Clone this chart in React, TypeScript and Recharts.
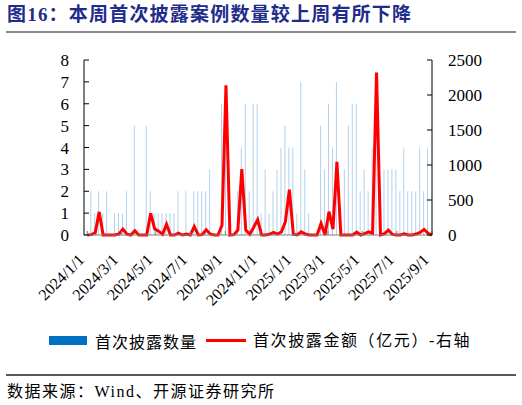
import React from 'react';
import { ComposedChart, Bar, Line, XAxis, YAxis } from 'recharts';

// Weekly observations starting 2024/1/1 (88 weeks)
const startDate = '2024/1/1';

const disclosureCounts = [
  0, 2, 1, 2, 1, 2, 0, 1, 1, 1,
  2, 0, 5, 0, 0, 5, 2, 1, 1, 1,
  1, 1, 1, 2, 0, 2, 0, 2, 2, 2,
  2, 3, 0, 0, 6, 6, 0, 0, 2, 4,
  6, 2, 6, 6, 1, 3, 1, 2, 3, 4,
  5, 4, 4, 1, 7, 3, 1, 0, 0, 5,
  3, 6, 4, 7, 0, 3, 5, 6, 6, 2,
  3, 2, 4, 5, 0, 3, 3, 3, 3, 2,
  4, 2, 2, 2, 4, 2, 4, 0,
];

const disclosureAmounts = [
  0, 5, 30, 330, 0, 0, 0, 0, 15, 85,
  12, 0, 60, 0, 0, 0, 310, 90, 55, 10,
  155, 0, 0, 25, 0, 15, 0, 120, 0, 5,
  75, 15, 0, 0, 140, 2140, 0, 5, 70, 940,
  70, 10, 110, 220, 0, 0, 10, 38, 14, 45,
  190, 648, 10, 0, 45, 14, 0, 0, 0, 165,
  0, 333, 85, 1045, 0, 0, 0, 0, 40, 0,
  20, 45, 24, 2320, 0, 20, 71, 8, 0, 0,
  18, 0, 0, 14, 38, 80, 24, 0,
];

const tickLabels = [
  '2024/1/1', '2024/3/1', '2024/5/1', '2024/7/1', '2024/9/1', '2024/11/1',
  '2025/1/1', '2025/3/1', '2025/5/1', '2025/7/1', '2025/9/1',
];

const leftTicks = [0, 1, 2, 3, 4, 5, 6, 7, 8];
const rightTicks = [0, 500, 1000, 1500, 2000, 2500];

const seriesNames = ['首次披露数量', '首次披露金额（亿元）-右轴'];
const titleText = '图16：本周首次披露案例数量较上周有所下降';
const sourceText = '数据来源：Wind、开源证券研究所';

const DAY = 86400000;
const toUTC = (s: string) => {
  const [y, m, d] = s.split('/').map(Number);
  return Date.UTC(y, m - 1, d);
};
const dayOffset = (s: string) => Math.round((toUTC(s) - toUTC(startDate)) / DAY);

const data = disclosureCounts.map((c, i) => ({
  day: i * 7,
  count: c,
  amount: disclosureAmounts[i],
}));

const tickDays = tickLabels.map(dayOffset);
const labelByDay: Record<number, string> = {};
tickLabels.forEach((l, i) => (labelByDay[tickDays[i]] = l));

const serif = '"Liberation Serif", "Times New Roman", serif';
const mixed = '"Liberation Serif", "Noto Sans CJK SC", serif';
const cjk = '"Noto Sans CJK SC", "Noto Sans", sans-serif';

const XTick = (props: any) => {
  const { x, y, payload } = props;
  return (
    <g transform={`translate(${x - 6},${y})`}>
      <text
        transform="rotate(-45)"
        textAnchor="end"
        dy="0.35em"
        fontSize={16}
        fontFamily={serif}
        fill="#000"
      >
        {labelByDay[payload.value]}
      </text>
    </g>
  );
};

export default function App() {
  return (
    <div
      style={{
        position: 'absolute',
        left: 0,
        top: 0,
        width: 522,
        height: 405,
        background: '#fff',
        overflow: 'hidden',
      }}
    >
      <div
        style={{
          position: 'absolute',
          left: 7,
          top: 5,
          fontSize: 19,
          lineHeight: '20px',
          fontWeight: 'bold',
          color: '#1F2C8A',
          fontFamily: mixed,
          letterSpacing: 1.2,
          whiteSpace: 'nowrap',
        }}
      >
        {titleText}
      </div>
      <div
        style={{
          position: 'absolute',
          left: 6,
          top: 31,
          width: 510,
          height: 2,
          background: '#8a8a8a',
        }}
      />
      <div style={{ position: 'absolute', left: 0, top: 0 }}>
        <ComposedChart
          width={522}
          height={320}
          data={data}
          margin={{ top: 60, right: 0, left: 0, bottom: 0 }}
        >
          <XAxis
            dataKey="day"
            type="number"
            domain={[-5.8, 609]}
            ticks={tickDays}
            interval={0}
            height={85}
            stroke="#7f7f7f"
            tickSize={-4}
            tickMargin={26}
            tick={<XTick />}
            allowDataOverflow
          />
          <YAxis
            yAxisId="left"
            orientation="left"
            domain={[0, 8]}
            ticks={leftTicks}
            interval={0}
            width={84}
            stroke="#000"
            tickSize={-5}
            tickMargin={20}
            tick={{ fontSize: 17, fontFamily: serif, fill: '#000' }}
          />
          <YAxis
            yAxisId="right"
            orientation="right"
            domain={[0, 2500]}
            ticks={rightTicks}
            interval={0}
            width={90}
            stroke="#000"
            tickSize={-5}
            tickMargin={21}
            tick={{ fontSize: 17, fontFamily: serif, fill: '#000', textAnchor: 'start' }}
          />
          <Bar
            yAxisId="left"
            dataKey="count"
            name={seriesNames[0]}
            fill="#B3D1EC"
            barSize={1}
            isAnimationActive={false}
          />
          <Line
            yAxisId="right"
            dataKey="amount"
            name={seriesNames[1]}
            type="linear"
            stroke="#FF0000"
            strokeWidth={3}
            dot={false}
            activeDot={false}
            isAnimationActive={false}
          />
        </ComposedChart>
      </div>
      {/* legend */}
      <div
        style={{
          position: 'absolute',
          left: 49,
          top: 336,
          width: 38,
          height: 9,
          background: '#0070C0',
        }}
      />
      <div
        style={{
          position: 'absolute',
          left: 95,
          top: 331,
          fontSize: 16,
          lineHeight: '20px',
          fontFamily: cjk,
          letterSpacing: 1,
          color: '#000',
          whiteSpace: 'nowrap',
        }}
      >
        {seriesNames[0]}
      </div>
      <div
        style={{
          position: 'absolute',
          left: 206,
          top: 339,
          width: 40,
          height: 3,
          background: '#FF0000',
        }}
      />
      <div
        style={{
          position: 'absolute',
          left: 253,
          top: 331,
          fontSize: 16,
          lineHeight: '20px',
          fontFamily: mixed,
          letterSpacing: 1.6,
          color: '#000',
          whiteSpace: 'nowrap',
        }}
      >
        {seriesNames[1]}
      </div>
      {/* footer */}
      <div
        style={{
          position: 'absolute',
          left: 6,
          top: 374,
          width: 510,
          height: 2,
          background: '#595959',
        }}
      />
      <div
        style={{
          position: 'absolute',
          left: 7,
          top: 382,
          fontSize: 16,
          lineHeight: '20px',
          fontFamily: mixed,
          letterSpacing: 1.5,
          color: '#000',
          whiteSpace: 'nowrap',
        }}
      >
        {sourceText}
      </div>
    </div>
  );
}
